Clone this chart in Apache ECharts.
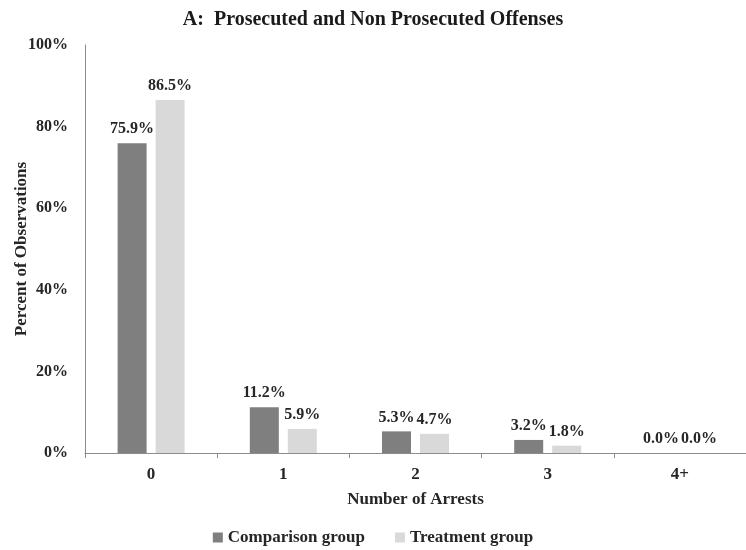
<!DOCTYPE html>
<html>
<head>
<meta charset="utf-8">
<script src="https://cdn.jsdelivr.net/npm/echarts@6/dist/echarts.min.js"></script>
<style>
    html, body {margin: 0; padding: 0; background: #fff;}
    #container {width: 746px; height: 550px;}
</style>
</head>
<body>
<div id="container"></div>
<script>
var categories = ['0', '1', '2', '3', '4+'];
var comparison = [75.9, 11.2, 5.3, 3.2, 0.0];
var treatment = [86.5, 5.9, 4.7, 1.8, 0.0];
var yTicks = [0, 20, 40, 60, 80, 100];

var font = '"Liberation Serif", "DejaVu Serif", serif';

var dom = document.getElementById("container");
var myChart = echarts.init(dom);

var barLabel = {
    show: true,
    position: 'top',
    distance: 6,
    fontFamily: font,
    fontWeight: 'bold',
    fontSize: 16,
    color: '#262626',
    formatter: function (p) {
        return p.value.toFixed(1) + '%';
    }
};

var option = {
    animation: false,
    textStyle: {fontFamily: font},
    title: {
        text: 'A:  Prosecuted and Non Prosecuted Offenses',
        left: 'center',
        top: 5,
        textStyle: {
            fontFamily: font,
            fontWeight: 'bold',
            fontSize: 20,
            color: '#1a1a1a'
        }
    },
    legend: {
        top: 524,
        left: 'center',
        icon: 'rect',
        itemWidth: 10,
        itemHeight: 10,
        itemGap: 30,
        textStyle: {
            fontFamily: font,
            fontWeight: 'bold',
            fontSize: 17,
            color: '#262626'
        },
        data: ['Comparison group', 'Treatment group']
    },
    grid: {
        left: 85,
        right: 0,
        top: 45,
        bottom: 97,
        outerBoundsMode: 'none'
    },
    xAxis: {
        type: 'category',
        data: categories,
        name: 'Number of Arrests',
        nameLocation: 'middle',
        nameGap: 38,
        nameMoveOverlap: false,
        nameTextStyle: {
            fontFamily: font,
            fontWeight: 'bold',
            fontSize: 17,
            color: '#262626'
        },
        axisLine: {lineStyle: {color: '#8c8c8c'}},
        axisTick: {show: true, length: 5, lineStyle: {color: '#8c8c8c'}},
        axisLabel: {
            margin: 13,
            fontFamily: font,
            fontWeight: 'bold',
            fontSize: 17,
            color: '#262626'
        }
    },
    yAxis: {
        type: 'value',
        min: yTicks[0],
        max: yTicks[yTicks.length - 1],
        interval: yTicks[1] - yTicks[0],
        name: 'Percent of Observations',
        nameLocation: 'middle',
        nameGap: 55,
        nameMoveOverlap: false,
        nameTextStyle: {
            fontFamily: font,
            fontWeight: 'bold',
            fontSize: 17,
            color: '#262626'
        },
        splitLine: {show: false},
        axisLine: {show: true, lineStyle: {color: '#8c8c8c'}},
        axisTick: {show: false},
        axisLabel: {
            margin: 17,
            formatter: '{value}%',
            fontFamily: font,
            fontWeight: 'bold',
            fontSize: 16,
            color: '#262626'
        }
    },
    series: [
        {
            name: 'Comparison group',
            type: 'bar',
            data: comparison,
            barWidth: 29,
            barGap: '31%',
            itemStyle: {color: '#7f7f7f'},
            label: barLabel
        },
        {
            name: 'Treatment group',
            type: 'bar',
            data: treatment,
            barWidth: 29,
            itemStyle: {color: '#d9d9d9'},
            label: barLabel
        }
    ]
};

if (option && typeof option === 'object') {
    myChart.setOption(option);
}
</script>
</body>
</html>
